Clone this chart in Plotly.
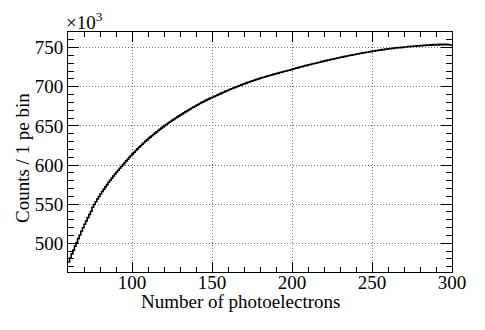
import numpy as np
import plotly.graph_objects as go

# histogram: 1 pe bins starting at 60 pe, counts in units of 10^3
bin_start = 60
bin_width = 1
counts_k = [
    476.0, 481.2, 486.5, 491.3, 496.4, 501.0, 505.9, 510.6, 515.4, 519.8,
    524.3, 528.4, 532.8, 536.7, 540.9, 546.0, 549.6, 553.1, 556.5, 559.8,
    563.0, 566.1, 569.2, 572.1, 575.0, 577.9, 580.6, 583.3, 585.9, 588.5,
    591.0, 593.4, 595.8, 598.2, 600.5, 602.9, 605.3, 607.6, 609.9, 612.1,
    614.3, 616.4, 618.6, 620.6, 622.7, 624.6, 626.6, 628.5, 630.3, 632.2,
    634.0, 635.7, 637.5, 639.1, 640.8, 642.4, 644.1, 645.6, 647.2, 648.7,
    650.3, 651.8, 653.2, 654.6, 656.0, 657.4, 658.8, 660.1, 661.5, 662.8,
    664.1, 665.4, 666.7, 667.9, 669.2, 670.4, 671.6, 672.8, 674.0, 675.2,
    676.3, 677.4, 678.6, 679.7, 680.7, 681.8, 682.9, 683.9, 684.9, 685.9,
    686.6, 687.5, 688.6, 689.3, 690.5, 691.2, 692.3, 693.0, 694.1, 694.9,
    695.8, 696.9, 697.5, 698.5, 699.2, 700.1, 700.8, 701.7, 702.4, 703.2,
    704.0, 704.7, 705.6, 706.2, 707.1, 707.6, 708.4, 709.2, 709.7, 710.4,
    711.0, 711.8, 712.2, 712.9, 713.6, 714.0, 714.8, 715.2, 715.9, 716.5,
    717.0, 717.4, 718.2, 718.5, 719.2, 719.8, 720.1, 720.8, 721.2, 721.8,
    722.6, 723.0, 723.8, 724.2, 724.8, 725.5, 725.8, 726.5, 727.0, 727.4,
    728.1, 728.4, 729.1, 729.4, 730.1, 730.4, 731.1, 731.4, 732.1, 732.4,
    733.1, 733.4, 734.0, 734.3, 735.0, 735.2, 735.9, 736.1, 736.8, 737.0,
    737.7, 737.9, 738.5, 738.8, 739.4, 739.6, 740.2, 740.4, 741.0, 741.2,
    741.8, 742.0, 742.6, 742.8, 743.3, 743.5, 744.1, 744.2, 744.8, 744.9,
    745.5, 745.6, 746.2, 746.3, 746.9, 746.9, 747.5, 747.5, 748.1, 748.1,
    748.6, 748.6, 749.2, 749.1, 749.7, 749.6, 750.1, 750.0, 750.6, 750.4,
    750.9, 750.8, 751.4, 751.2, 751.8, 751.6, 752.1, 751.9, 752.5, 752.2,
    752.8, 752.5, 753.1, 752.8, 753.4, 753.0, 753.6, 753.2, 753.9, 753.4,
    754.0, 753.6, 754.2, 753.7, 754.3, 753.8, 754.2, 753.9, 753.7, 753.3,
]

edges = bin_start + bin_width * np.arange(len(counts_k) + 1)
y_steps = counts_k + [counts_k[-1]]

serif = "Liberation Serif"
fsize = 19

fig = go.Figure()
fig.add_trace(go.Scatter(
    x=edges, y=y_steps, mode="lines",
    line=dict(shape="hv", color="black", width=1.6),
    showlegend=False, hoverinfo="skip",
))

axis_common = dict(
    showline=True, linecolor="black", linewidth=1, mirror="ticks",
    ticks="inside", tickcolor="black", tickwidth=1,
    showgrid=True, gridcolor="#777777", griddash="1px,2px", gridwidth=1,
    zeroline=False, automargin=False,
    tickfont=dict(family=serif, size=fsize, color="black"),
)

fig.update_xaxes(
    range=[60, 300], tickvals=[100, 150, 200, 250, 300], ticklen=10,
    ticklabelstandoff=-7,
    minor=dict(dtick=10, tick0=0, ticks="inside", ticklen=5,
               tickcolor="black", showgrid=False),
    **axis_common,
)
fig.update_yaxes(
    range=[463.3, 770], tickvals=[500, 550, 600, 650, 700, 750], ticklen=11,
    minor=dict(dtick=10, tick0=0, ticks="inside", ticklen=6,
               tickcolor="black", showgrid=False),
    **axis_common,
)

# axis titles placed like the ROOT canvas
fig.add_annotation(
    x=0.448, y=0, xref="paper", yref="paper", xanchor="center", yanchor="middle",
    yshift=-29, text="Number of photoelectrons", showarrow=False,
    font=dict(family=serif, size=fsize, color="black"),
)
fig.add_annotation(
    x=0, y=0.475, xref="paper", yref="paper", xanchor="center", yanchor="middle",
    xshift=-46, textangle=-90, text="Counts / 1 pe bin", showarrow=False,
    font=dict(family=serif, size=fsize, color="black"),
)
fig.add_annotation(
    x=0, y=1, xref="paper", yref="paper", xanchor="left", yanchor="bottom",
    text="\u00d710<sup>3</sup>", showarrow=False, yshift=-3, xshift=-4,
    font=dict(family=serif, size=fsize, color="black"),
)

# page body has an 8px margin, so the figure is shrunk to fit the window
fig.update_layout(
    width=477, height=322,
    margin=dict(l=60, r=33, t=24, b=58),
    plot_bgcolor="white", paper_bgcolor="white",
    font=dict(family=serif, color="black"),
)

fig.write_html("out.html")
